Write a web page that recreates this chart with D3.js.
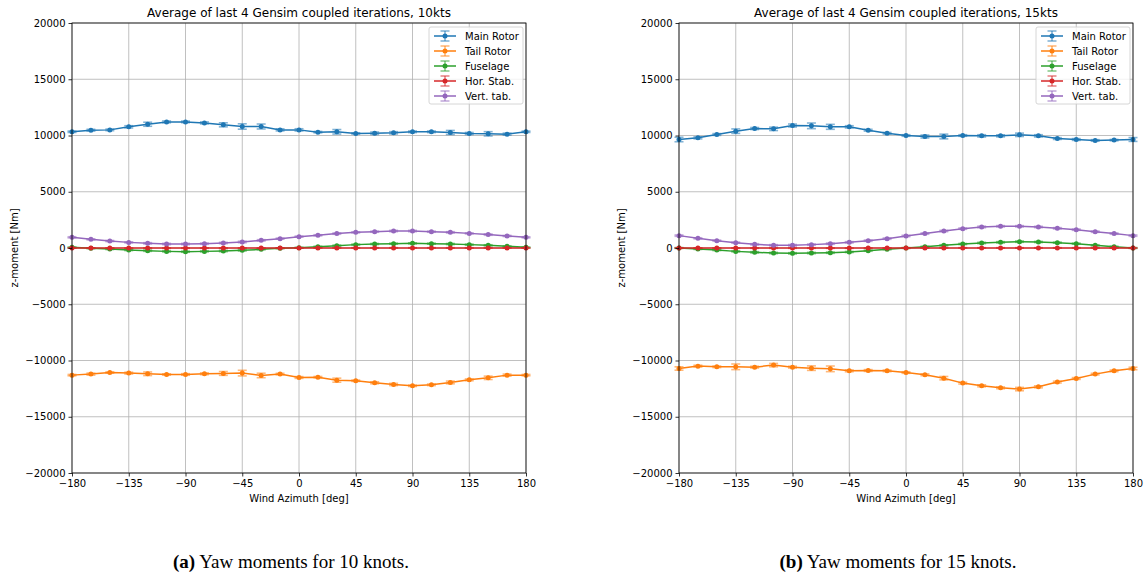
<!DOCTYPE html>
<html>
<head>
<meta charset="utf-8">
<script src="https://cdn.jsdelivr.net/npm/d3@7"></script>
<style>
  body { margin: 0; background: #fff; }
  svg text { font-family: "DejaVu Sans", sans-serif; fill: #000; }
  .caption { font-family: "Liberation Serif", "Times New Roman", serif; font-size: 19px; }
</style>
</head>
<body>
<div id="chart"></div>
<script>
// wind azimuth, every 15 deg
const azimuth = [-180, -165, -150, -135, -120, -105, -90, -75, -60, -45, -30, -15, 0,
                 15, 30, 45, 60, 75, 90, 105, 120, 135, 150, 165, 180];

const seriesNames = ["Main Rotor", "Tail Rotor", "Fuselage", "Hor. Stab.", "Vert. tab."];
const colors = ["#1f77b4", "#ff7f0e", "#2ca02c", "#d62728", "#9467bd"];

const xTicks = [-180, -135, -90, -45, 0, 45, 90, 135, 180];
const yTicks = [-20000, -15000, -10000, -5000, 0, 5000, 10000, 15000, 20000];

// 10 kts
const mainRotor10 = [10330, 10470, 10500, 10770, 11000, 11210, 11210, 11120, 10950, 10800, 10800, 10500, 10500,
                     10300, 10330, 10180, 10200, 10240, 10330, 10330, 10270, 10180, 10150, 10120, 10330];
const mainRotorErr10 = [60, 80, 70, 100, 180, 80, 70, 90, 180, 240, 220, 90, 100,
                        60, 200, 60, 110, 100, 70, 70, 180, 90, 190, 90, 60];
const tailRotor10 = [-11300, -11210, -11070, -11120, -11180, -11240, -11240, -11180, -11150, -11120, -11330, -11210, -11510,
                     -11480, -11750, -11800, -11980, -12130, -12250, -12160, -11950, -11720, -11540, -11300, -11300];
const tailRotorErr10 = [60, 90, 60, 80, 160, 60, 70, 80, 170, 250, 200, 70, 80,
                        60, 180, 60, 90, 100, 60, 70, 120, 80, 150, 90, 60];
const fuselage10 = [60, -30, -90, -180, -240, -300, -330, -300, -270, -210, -120, -30, 30,
                    120, 210, 300, 355, 385, 415, 385, 355, 300, 240, 150, 60];
const fuselageErr10 = [40, 40, 50, 50, 60, 60, 50, 50, 60, 60, 50, 40, 40,
                       40, 50, 50, 50, 50, 50, 50, 50, 50, 50, 40, 40];
const horStab10 = [0, 0, -10, -10, -10, -10, -10, -10, -10, -10, -10, 0, 0,
                   0, 10, 10, 10, 10, 10, 10, 10, 10, 10, 0, 0];
const horStabErr10 = [20, 20, 20, 20, 20, 20, 20, 20, 20, 20, 20, 20, 20,
                      20, 20, 20, 20, 20, 20, 20, 20, 20, 20, 20, 20];
const vertTab10 = [950, 770, 620, 500, 415, 355, 355, 385, 445, 535, 680, 830, 1010,
                   1130, 1280, 1390, 1450, 1510, 1510, 1450, 1390, 1300, 1190, 1070, 950];
const vertTabErr10 = [50, 50, 50, 50, 60, 60, 60, 60, 60, 70, 60, 50, 50,
                      50, 60, 50, 50, 60, 60, 50, 60, 50, 60, 50, 50];

// 15 kts
const mainRotor15 = [9645, 9790, 10090, 10385, 10620, 10590, 10890, 10860, 10770, 10770, 10470, 10200, 10000,
                     9910, 9910, 10000, 9970, 9970, 10060, 9970, 9730, 9645, 9560, 9590, 9645];
const mainRotorErr15 = [200, 90, 80, 200, 90, 150, 130, 250, 220, 100, 80, 70, 70,
                        130, 210, 70, 100, 90, 150, 100, 80, 80, 70, 60, 170];
const tailRotor15 = [-10710, -10500, -10560, -10560, -10590, -10410, -10590, -10680, -10740, -10920, -10890, -10920, -11070,
                     -11270, -11570, -12010, -12250, -12430, -12540, -12340, -11920, -11600, -11210, -10920, -10710];
const tailRotorErr15 = [150, 80, 70, 250, 80, 150, 80, 200, 250, 80, 80, 70, 70,
                        80, 150, 80, 90, 80, 150, 90, 80, 80, 70, 70, 110];
const fuselage15 = [0, -90, -180, -300, -385, -445, -475, -445, -415, -355, -240, -120, 0,
                    120, 240, 355, 445, 505, 565, 535, 475, 385, 240, 120, 0];
const fuselageErr15 = [40, 40, 50, 50, 60, 60, 60, 60, 60, 50, 50, 40, 40,
                       40, 50, 50, 60, 60, 60, 50, 50, 50, 50, 40, 40];
const horStab15 = [0, 0, -10, -10, -10, -10, -10, -10, -10, -10, -10, 0, 0,
                   0, 10, 10, 10, 10, 10, 10, 10, 10, 10, 0, 0];
const horStabErr15 = [20, 20, 20, 20, 20, 20, 20, 20, 20, 20, 20, 20, 20,
                      20, 20, 20, 20, 20, 20, 20, 20, 20, 20, 20, 20];
const vertTab15 = [1100, 860, 650, 475, 325, 240, 240, 300, 385, 505, 650, 830, 1070,
                   1280, 1510, 1720, 1870, 1930, 1930, 1870, 1750, 1630, 1450, 1280, 1100];
const vertTabErr15 = [60, 50, 50, 50, 60, 60, 70, 60, 60, 60, 60, 60, 60,
                      60, 60, 60, 70, 60, 60, 60, 60, 60, 60, 60, 60];

const panels = [
    {
        left: 72, title: "Average of last 4 Gensim coupled iterations, 10kts",
        label: "(a)", captionText: " Yaw moments for 10 knots.", captionX: 291,
        values: [mainRotor10, tailRotor10, fuselage10, horStab10, vertTab10],
        errors: [mainRotorErr10, tailRotorErr10, fuselageErr10, horStabErr10, vertTabErr10]
    },
    {
        left: 679, title: "Average of last 4 Gensim coupled iterations, 15kts",
        label: "(b)", captionText: " Yaw moments for 15 knots.", captionX: 898,
        values: [mainRotor15, tailRotor15, fuselage15, horStab15, vertTab15],
        errors: [mainRotorErr15, tailRotorErr15, fuselageErr15, horStabErr15, vertTabErr15]
    }
];

const W = 1145, H = 576;
const plotW = 454, plotTop = 23, plotH = 450;
const cap = 4.5;
const fmt = v => String(v).replace("-", "\u2212");

const svg = d3.select("#chart").append("svg")
    .attr("width", W)
    .attr("height", H);

panels.forEach(p => {
    const g = svg.append("g")
        .attr("transform", `translate(${p.left},${plotTop})`);

    const x = d3.scaleLinear().domain([-180, 180]).range([0, plotW]);
    const y = d3.scaleLinear().domain([-20000, 20000]).range([plotH, 0]);

    // grid
    g.append("g").selectAll("line")
        .data(xTicks)
        .join("line")
        .attr("x1", d => x(d)).attr("x2", d => x(d))
        .attr("y1", 0).attr("y2", plotH)
        .attr("stroke", "#b0b0b0").attr("stroke-width", 0.8);
    g.append("g").selectAll("line")
        .data(yTicks)
        .join("line")
        .attr("x1", 0).attr("x2", plotW)
        .attr("y1", d => y(d)).attr("y2", d => y(d))
        .attr("stroke", "#b0b0b0").attr("stroke-width", 0.8);

    // series
    p.values.forEach((vals, si) => {
        const c = colors[si];
        const errs = p.errors[si];
        const sg = g.append("g");
        const pts = azimuth.map((a, i) => ({a: a, v: vals[i], e: errs[i]}));

        const eb = sg.append("g").attr("stroke", c).attr("stroke-opacity", 0.55).attr("stroke-width", 1.6);
        eb.selectAll(".ev").data(pts).join("line")
            .attr("x1", d => x(d.a)).attr("x2", d => x(d.a))
            .attr("y1", d => y(d.v - d.e)).attr("y2", d => y(d.v + d.e));
        eb.selectAll(".et").data(pts).join("line")
            .attr("x1", d => x(d.a) - cap).attr("x2", d => x(d.a) + cap)
            .attr("y1", d => y(d.v + d.e)).attr("y2", d => y(d.v + d.e));
        eb.selectAll(".eb").data(pts).join("line")
            .attr("x1", d => x(d.a) - cap).attr("x2", d => x(d.a) + cap)
            .attr("y1", d => y(d.v - d.e)).attr("y2", d => y(d.v - d.e));

        sg.append("path")
            .datum(pts)
            .attr("fill", "none")
            .attr("stroke", c)
            .attr("stroke-width", 1.5)
            .attr("d", d3.line().x(d => x(d.a)).y(d => y(d.v)));

        sg.selectAll("circle").data(pts).join("circle")
            .attr("cx", d => x(d.a)).attr("cy", d => y(d.v))
            .attr("r", 2.5)
            .attr("fill", c);
    });

    // frame
    g.append("rect")
        .attr("width", plotW).attr("height", plotH)
        .attr("fill", "none").attr("stroke", "#000").attr("stroke-width", 0.8);

    const xAxis = d3.axisBottom(x).tickValues(xTicks).tickSize(3.5).tickPadding(3).tickFormat(fmt);
    const yAxis = d3.axisLeft(y).tickValues(yTicks).tickSize(3.5).tickPadding(3).tickFormat(fmt);

    const xg = g.append("g").attr("transform", `translate(0,${plotH})`).call(xAxis);
    const yg = g.append("g").call(yAxis);
    [xg, yg].forEach(a => {
        a.select(".domain").remove();
        a.selectAll("line").attr("stroke", "#000").attr("stroke-width", 0.8);
        a.selectAll("text").attr("font-size", 10).attr("font-family", "DejaVu Sans");
    });

    g.append("text")
        .attr("x", plotW / 2).attr("y", -6)
        .attr("text-anchor", "middle")
        .attr("font-size", 12)
        .text(p.title);

    g.append("text")
        .attr("x", plotW / 2).attr("y", plotH + 29)
        .attr("text-anchor", "middle")
        .attr("font-size", 10)
        .text("Wind Azimuth [deg]");

    g.append("text")
        .attr("transform", `translate(${-54},${plotH / 2}) rotate(-90)`)
        .attr("text-anchor", "middle")
        .attr("font-size", 10)
        .text("z-moment [Nm]");

    // legend
    const lg = g.append("g").attr("transform", `translate(${plotW - 97},4)`);
    lg.append("rect")
        .attr("width", 94).attr("height", 77).attr("rx", 2)
        .attr("fill", "#fff").attr("fill-opacity", 0.8)
        .attr("stroke", "#cccccc").attr("stroke-width", 0.8);
    seriesNames.forEach((name, i) => {
        const yy = 9 + i * 15;
        const item = lg.append("g").attr("transform", `translate(5,${yy})`);
        item.append("line").attr("x1", 0).attr("x2", 22).attr("y1", 0).attr("y2", 0)
            .attr("stroke", colors[i]).attr("stroke-width", 1.5);
        const eg = item.append("g").attr("stroke", colors[i]).attr("stroke-opacity", 0.55).attr("stroke-width", 1.6);
        eg.append("line").attr("x1", 11).attr("x2", 11).attr("y1", -5).attr("y2", 5);
        eg.append("line").attr("x1", 11 - cap).attr("x2", 11 + cap).attr("y1", -5).attr("y2", -5);
        eg.append("line").attr("x1", 11 - cap).attr("x2", 11 + cap).attr("y1", 5).attr("y2", 5);
        item.append("circle").attr("cx", 11).attr("cy", 0).attr("r", 2.5).attr("fill", colors[i]);
        item.append("text").attr("x", 31).attr("y", 0).attr("dy", "0.35em")
            .attr("font-size", 10).text(name);
    });

    // caption
    const ct = svg.append("text")
        .attr("class", "caption")
        .attr("x", p.captionX).attr("y", 568)
        .attr("text-anchor", "middle");
    ct.append("tspan").attr("font-weight", "bold").text(p.label);
    ct.append("tspan").text(p.captionText);
});
</script>
</body>
</html>
